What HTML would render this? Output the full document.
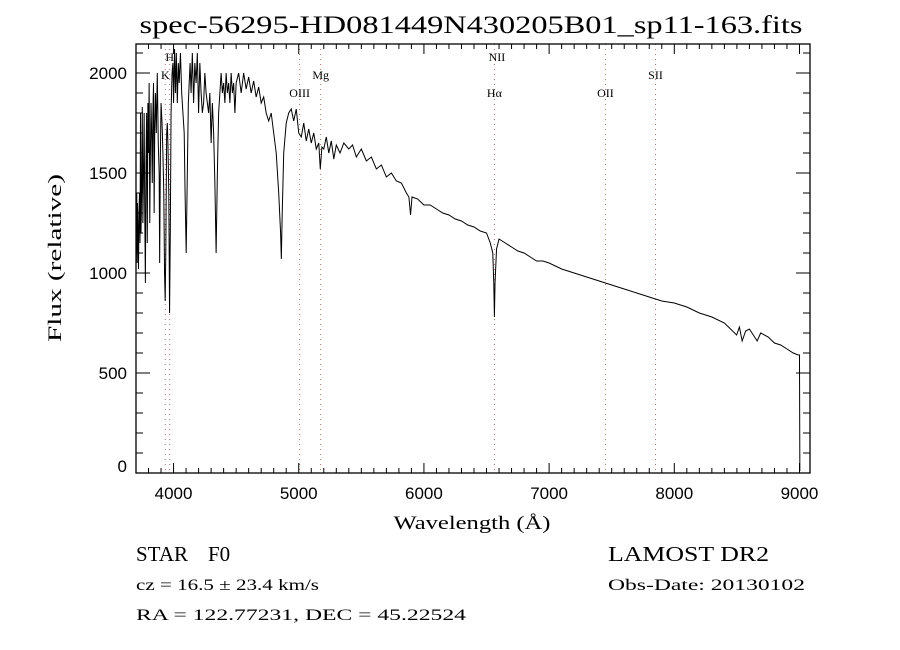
<!DOCTYPE html>
<html><head><meta charset="utf-8"><style>
html,body{margin:0;padding:0;background:#fff;}
svg{display:block;font-family:"Liberation Serif",serif;}
</style></head><body>
<svg id="chart" width="900" height="650" viewBox="0 0 900 650">
<rect x="0" y="0" width="900" height="650" fill="#fff"/>
<text x="471" y="33" font-size="25" text-anchor="middle" textLength="663" lengthAdjust="spacingAndGlyphs">spec-56295-HD081449N430205B01_sp11-163.fits</text>
<g id="lines"></g>
<g id="ticks"></g>
<path id="spec" fill="none" stroke="#000" stroke-width="1"/>
<rect x="136" y="44" width="674" height="429" fill="none" stroke="#000" stroke-width="1.3"/>
<text x="472" y="529" font-size="19" text-anchor="middle" textLength="157" lengthAdjust="spacingAndGlyphs">Wavelength (Å)</text>
<text transform="translate(61,258) rotate(-90)" font-size="19" text-anchor="middle" textLength="168" lengthAdjust="spacingAndGlyphs">Flux (relative)</text>
<text x="136" y="561" font-size="21">STAR</text>
<text x="208" y="561" font-size="21">F0</text>
<text x="608" y="561" font-size="21" textLength="161" lengthAdjust="spacingAndGlyphs">LAMOST DR2</text>
<text x="136" y="590" font-size="16" textLength="183" lengthAdjust="spacingAndGlyphs">cz = 16.5 ± 23.4 km/s</text>
<text x="608" y="590" font-size="16" textLength="197" lengthAdjust="spacingAndGlyphs">Obs-Date: 20130102</text>
<text x="136" y="620" font-size="16" textLength="330" lengthAdjust="spacingAndGlyphs">RA = 122.77231, DEC =  45.22524</text>
</svg>
<script>
const wavelengths=[3700,3703,3706,3709,3712,3716,3720,3724,3728,3732,3736,3740,3745,3750,3755,3760,3765,3770,3775,3780,3785,3790,3795,3800,3805,3810,3815,3820,3825,3830,3835,3840,3845,3850,3855,3862,3870,3878,3885,3889,3895,3900,3908,3915,3922,3928,3933,3938,3945,3950,3955,3962,3968,3974,3980,3988,3995,4000,4008,4015,4022,4030,4038,4045,4055,4065,4075,4085,4092,4101,4110,4118,4125,4132,4140,4150,4160,4170,4180,4190,4200,4210,4220,4230,4240,4250,4260,4270,4280,4290,4300,4310,4320,4330,4340,4350,4360,4370,4380,4390,4400,4410,4420,4430,4440,4450,4460,4470,4480,4490,4500,4520,4540,4560,4580,4600,4620,4640,4660,4680,4700,4720,4740,4760,4780,4800,4820,4840,4855,4861,4868,4880,4900,4920,4940,4960,4980,5000,5020,5040,5060,5080,5100,5120,5140,5160,5172,5185,5200,5220,5240,5260,5280,5300,5330,5360,5400,5430,5460,5500,5540,5580,5620,5660,5700,5740,5780,5820,5860,5880,5893,5905,5950,6000,6050,6100,6150,6200,6250,6300,6350,6400,6450,6500,6530,6550,6558,6563,6568,6580,6600,6650,6700,6750,6800,6850,6900,6950,7000,7100,7200,7300,7400,7500,7600,7700,7800,7900,8000,8100,8200,8300,8400,8498,8520,8542,8570,8600,8662,8690,8750,8800,8850,8900,8950,8990,9000,9003];
const fluxValues=[1380,1100,1400,1050,1350,1200,1020,1300,1400,1150,1800,1200,1400,1830,1250,1500,1800,1300,950,1550,1800,1150,1850,1600,1950,1250,1600,1850,1700,1450,1800,1950,1300,1750,1900,1700,2000,1650,1500,1050,1600,1850,1750,1600,1400,1000,860,1100,1700,1750,1650,1400,800,1200,1800,2000,2050,1850,2120,1900,2100,1850,2050,1950,2100,1900,1800,1700,1400,1100,1500,1850,1950,2050,1900,2100,1850,2050,1950,2100,1800,2050,1900,1800,1850,2000,1900,1850,1800,1900,1650,1850,1700,1450,1100,1500,1800,1900,2000,1900,1950,1850,2000,1900,1950,1850,2000,1900,1950,1800,1950,2000,1900,2000,1920,1980,1900,1960,1880,1930,1850,1880,1800,1760,1800,1700,1600,1400,1200,1070,1300,1600,1750,1800,1820,1760,1820,1700,1680,1750,1660,1720,1650,1700,1620,1650,1520,1630,1620,1680,1600,1660,1570,1640,1600,1650,1620,1640,1580,1620,1560,1580,1520,1540,1480,1500,1460,1450,1400,1380,1290,1380,1370,1340,1340,1320,1300,1290,1270,1260,1240,1230,1210,1200,1150,1100,950,780,950,1120,1170,1150,1130,1110,1100,1080,1060,1060,1050,1020,1000,980,960,940,920,900,880,860,850,830,800,780,750,690,730,660,710,720,660,700,680,650,640,620,600,590,590,10];
const xTickLabels=[4000,5000,6000,7000,8000,9000];
const yTickLabels=[0,500,1000,1500,2000];
const lineNames=["K","H","OIII","Mg","NII","Hα","OII","SII"];
const lineWaves=[3934,3969,5007,5175,6583,6563,7450,7850];
const lineLabelRows=[75,57,93,75,57,93,93,75];

const NS="http://www.w3.org/2000/svg";
const X0=136,X1=810,Y0=473,Y1=44,WMIN=3700,WMAX=9084,FMIN=0,FMAX=2145;
function xs(w){return X0+(w-WMIN)/(WMAX-WMIN)*(X1-X0);}
function ys(f){return Y0-(f-FMIN)/(FMAX-FMIN)*(Y0-Y1);}

let d="";
for(let i=0;i<wavelengths.length;i++){d+=(i?"L":"M")+xs(wavelengths[i]).toFixed(2)+","+ys(fluxValues[i]).toFixed(2);}
document.getElementById("spec").setAttribute("d",d);

const tk=document.getElementById("ticks");
function ln(x1,y1,x2,y2,name){const l=document.createElementNS(NS,"line");l.setAttribute("x1",x1);l.setAttribute("y1",y1);l.setAttribute("x2",x2);l.setAttribute("y2",y2);l.setAttribute("stroke","#000");l.setAttribute("stroke-width","1");


tk.appendChild(l);}
for(let w=3800;w<=9000;w+=100){const big=w%1000===0;const x=xs(w);ln(x,Y0,x,Y0-(big?10:5),"x-tick");ln(x,Y1,x,Y1+(big?10:5),"x-tick-top");}
for(let f=0;f<=2100;f+=100){const big=f%500===0;const y=ys(f);ln(X0,y,X0+(big?14:7),y,"y-tick");ln(X1,y,X1-(big?14:7),y,"y-tick-right");}
xTickLabels.forEach(v=>{const t=document.createElementNS(NS,"text");t.setAttribute("x",xs(v));t.setAttribute("y",Y0+26);t.setAttribute("text-anchor","middle");t.setAttribute("font-size","17");t.setAttribute("font-family","Liberation Sans, sans-serif");t.textContent=v;


tk.appendChild(t);});
yTickLabels.forEach(v=>{const t=document.createElementNS(NS,"text");t.setAttribute("x",127);t.setAttribute("y",ys(v)+6-(v===0?7:0));t.setAttribute("text-anchor","end");t.setAttribute("font-size","17");t.setAttribute("font-family","Liberation Sans, sans-serif");t.textContent=v;


tk.appendChild(t);});

const lg=document.getElementById("lines");
lineNames.forEach((n,i)=>{const x=xs(lineWaves[i]);
if(n!=="NII"){const l=document.createElementNS(NS,"line");l.setAttribute("x1",x);l.setAttribute("x2",x);l.setAttribute("y1",Y1);l.setAttribute("y2",Y0);l.setAttribute("stroke","#a0503a");l.setAttribute("stroke-width","1");l.setAttribute("stroke-dasharray","1,4");l.setAttribute("opacity","0.8");


lg.appendChild(l);}
const t=document.createElementNS(NS,"text");t.setAttribute("x",x);t.setAttribute("y",lineLabelRows[i]+4);t.setAttribute("text-anchor","middle");t.setAttribute("font-size","12");t.textContent=n;


lg.appendChild(t);});
</script>
</body></html>
